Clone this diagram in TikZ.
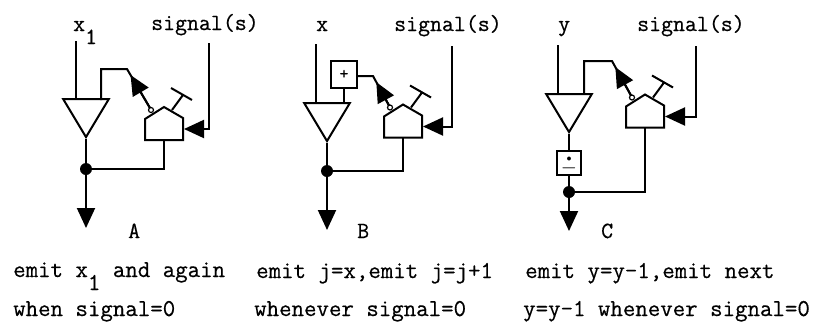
\documentclass[tikz,border=0pt]{standalone}
\usepackage{fontspec}
\usepackage{amssymb}
\usetikzlibrary{arrows.meta}
\usetikzlibrary{shapes.geometric}
\newfontfamily\labfont{Latin Modern Mono}[FakeBold=0.5]
\tikzset{
	wire/.style={line width=2pt},
	arrow/.style={line width=2pt, -{Triangle[length=20pt,width=18pt]}},
	lab/.style={font=\labfont\fontsize{23.2}{24}\selectfont, anchor=base west, inner sep=0pt},
	txt/.style={font=\labfont\fontsize{24.2}{25}\selectfont, anchor=base west, inner sep=0pt},
	buffer/.style={draw, line width=2pt, isosceles triangle, isosceles triangle apex angle=62, shape border rotate=-90, minimum height=38pt, inner sep=0pt, anchor=apex},
	opbox/.style={draw, line width=2pt, minimum width=24pt, minimum height=24pt, inner sep=0pt},
	dot/.style={circle, fill, minimum size=12pt, inner sep=0pt},
	gate/.pic={
		\draw[wire] (-19,0) -- (19,0) -- (19,-22) -- (0,-33) -- (-19,-21) -- cycle;
		\draw[wire] (8,-30) -- (19,-45) (7,-52) -- (28,-40);
		\draw[line width=1.2pt, fill=white] (-13,-30) circle (2.5pt);
		\coordinate (-bot) at (0,0);
		\coordinate (-sig) at (20,-11);
		\coordinate (-inv) at (-14,-32);
	},
}
\begin{document}
\begin{tikzpicture}[x=1pt,y=-1pt]
\useasboundingbox (0,0) rectangle (819,322);

\node[lab] (xa) at (73,31) {x\raisebox{-13pt}{1}};
\node[lab] (xb) at (316,31) {x};
\node[lab] (xc) at (558,31) {y};
\node[lab] (sa) at (151,30) {signal(s)};
\node[lab] (sb) at (394,31) {signal(s)};
\node[lab] (sc) at (637,31) {signal(s)};
\node[lab] (na) at (128,238) {A};
\node[lab] (nb) at (357,238) {B};
\node[lab] (nc) at (601,238) {C};

\node[buffer] (bufa) at (86,139) {};
\node[buffer] (bufb) at (327,143) {};
\node[buffer] (bufc) at (569,134) {};
\pic (ga) at (164,140) {gate};
\pic (gb) at (403,137.5) {gate};
\pic (gc) at (645,127.5) {gate};
\node[opbox, minimum width=26pt, minimum height=27pt] (plus) at (344,74.5) {\labfont\LARGE +};
\node[opbox] (minus) at (569,163) {\makebox[0pt]{\raisebox{-10pt}[0pt][0pt]{\huge $-$}}\makebox[0pt]{\raisebox{1.5pt}[0pt][0pt]{$\bullet$}}};
\node[dot] (da) at (86,169) {};
\node[dot] (db) at (327,171) {};
\node[dot] (dc) at (569,192) {};

\coordinate (ina) at (75.5,41);
\coordinate (inb) at (316,44);
\coordinate (inc) at (557.5,45);
\coordinate (fba) at (101,100);
\coordinate (fbc) at (584,93);
\coordinate (ka) at (127,69);
\coordinate (kb) at (373,76);
\coordinate (kc) at (612,61);
\coordinate (sia) at (209,43);
\coordinate (sib) at (452,46);
\coordinate (sic) at (696,46);
\coordinate (oa) at (86,228);
\coordinate (ob) at (327,230);
\coordinate (oc) at (569,231);

\draw[wire] (ina) -- (ina |- bufa.left corner);
\draw[wire] (inb) -- (inb |- bufb.left corner);
\draw[wire] (inc) -- (inc |- bufc.left corner);

\draw[wire] (fba) |- (ka) -- (ga-inv);
\draw[wire] (plus.south |- bufb.left corner) -- (plus.south);
\draw[wire] (plus.east |- kb) -- (kb) -- (gb-inv);
\draw[wire] (fbc) |- (kc) -- (gc-inv);
\draw[arrow, shorten >=7pt] (ga-inv) -- (ka);
\draw[arrow, shorten >=7pt] (gb-inv) -- (kb);
\draw[arrow, shorten >=7pt] (gc-inv) -- (kc);

\draw[arrow] (sia) |- (ga-sig);
\draw[arrow] (sib) |- (gb-sig);
\draw[arrow] (sic) |- (gc-sig);

\draw[wire] (bufa.apex) -- (da);
\draw[wire] (bufb.apex) -- (db);
\draw[wire] (bufc.apex) -- (minus);
\draw[wire] (minus) -- (dc);
\draw[wire] (ga-bot) |- (da);
\draw[wire] (gb-bot) |- (db);
\draw[wire] (gc-bot) |- (dc);
\draw[arrow] (da) -- (oa);
\draw[arrow] (db) -- (ob);
\draw[arrow] (dc) -- (oc);

\node[txt] (ta) at (13,277) {emit x\raisebox{-13pt}{1} and again};
\node[txt] (tb) at (13,316) {when signal=0};
\node[txt] (tc) at (256,278) {emit j=x,emit j=j+1};
\node[txt] (td) at (254,316) {whenever signal=0};
\node[txt] (te) at (525,278) {emit y=y-1,emit next};
\node[txt] (tf) at (523,316) {y=y-1 whenever signal=0};
\end{tikzpicture}
\end{document}
